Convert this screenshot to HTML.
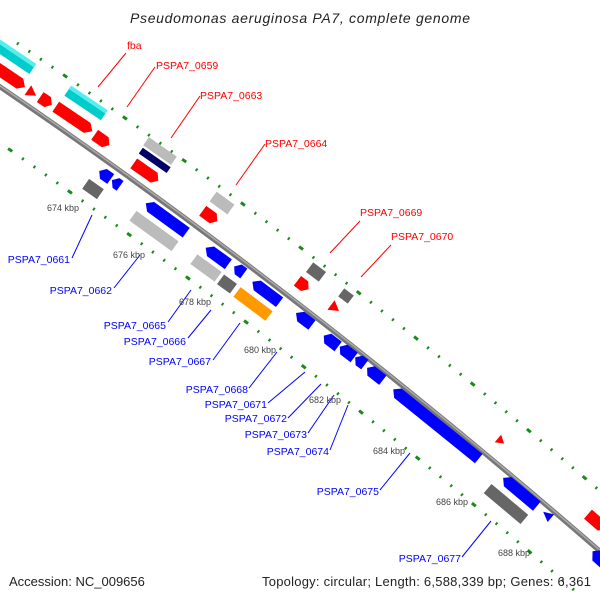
<!DOCTYPE html>
<html><head><meta charset="utf-8"><style>
body{margin:0;background:#fff}
svg{display:block}
text{font-family:"Liberation Sans","DejaVu Sans",sans-serif}
.r{fill:#f00;font-size:10.5px}
.b{fill:#00f;font-size:10.5px}
.k{fill:#444;font-size:9px}
</style></head><body>
<svg width="600" height="600" viewBox="0 0 600 600">
<text x="300" y="23" text-anchor="middle" font-size="14" font-style="italic" fill="#222" textLength="340">Pseudomonas aeruginosa PA7, complete genome</text>
<g fill="none" stroke="#1a8a1a" stroke-width="3" stroke-dasharray="2 12 2 12 2 12 2 12 5 12">
<path d="M -10,80 Q 300,290 610,560" transform="translate(27,-37)"/>
<path d="M -10,80 Q 300,290 610,560" transform="translate(-28,37)"/>
</g>
<path d="M -10,80 Q 300,290 610,560" fill="none" stroke="#777" stroke-width="5"/>
<path d="M -10,80 Q 300,290 610,560" fill="none" stroke="#aaa" stroke-width="1.5" transform="translate(0,-1)"/>

<g stroke="none">
<g transform="translate(12,55) rotate(34)"><rect x="-25" y="-6" width="50" height="12" fill="#0cc"/><rect x="-25" y="-6" width="50" height="4" fill="#5ee"/></g>
<g transform="translate(86,103) rotate(34)"><rect x="-22" y="-6" width="44" height="12" fill="#0cc"/><rect x="-22" y="-6" width="44" height="4" fill="#5ee"/></g>
<g transform="translate(10,77) rotate(34)"><polygon points="-18,-6 12,-6 18,0 12,6 -18,6" fill="#f00"/></g>
<g transform="translate(32,93) rotate(34)"><polygon points="-5,-6 5,0 -5,6" fill="#f00"/></g>
<g transform="translate(46,101) rotate(34)"><polygon points="-7,-6 2,-6 7,0 2,6 -7,6" fill="#f00"/></g>
<g transform="translate(74,119) rotate(34)"><polygon points="-22,-6 16,-6 22,0 16,6 -22,6" fill="#f00"/></g>
<g transform="translate(102,140) rotate(35)"><polygon points="-9,-6 4,-6 9,0 4,6 -9,6" fill="#f00"/></g>
<g transform="translate(160,151) rotate(35)"><rect x="-17" y="-5" width="34" height="10" fill="#bbb"/></g>
<g transform="translate(155,160) rotate(35)"><rect x="-17" y="-3" width="34" height="7" fill="#006"/></g>
<g transform="translate(146,172) rotate(35)"><polygon points="-15,-6 10,-6 15,0 10,6 -15,6" fill="#f00"/></g>
<g transform="translate(222,203) rotate(36)"><rect x="-11" y="-6" width="22" height="12" fill="#bbb"/></g>
<g transform="translate(210,216) rotate(36)"><polygon points="-9,-6 4,-6 9,0 4,6 -9,6" fill="#f00"/></g>
<g transform="translate(316,272) rotate(37)"><rect x="-8" y="-6" width="16" height="12" fill="#666"/></g>
<g transform="translate(303,285) rotate(37)"><polygon points="-7,-6 2,-6 7,0 2,6 -7,6" fill="#f00"/></g>
<g transform="translate(346,296) rotate(37)"><rect x="-6" y="-5" width="12" height="10" fill="#666"/></g>
<g transform="translate(335,308) rotate(37)"><polygon points="-5,-6 5,0 -5,6" fill="#f00"/></g>
<g transform="translate(501,441) rotate(40)"><polygon points="-4,-5 4,0 -4,5" fill="#f00"/></g>
<g transform="translate(597,522) rotate(41)"><polygon points="-12,-6 6,-6 12,0 6,6 -12,6" fill="#f00"/></g>

<g transform="translate(105,175) rotate(35)"><polygon points="-7,0 -2,-6 7,-6 7,6 -2,6" fill="#00f"/></g>
<g transform="translate(116,183) rotate(35)"><polygon points="-5,0 0,-6 5,-6 5,6 0,6" fill="#00f"/></g>
<g transform="translate(93,189) rotate(35)"><rect x="-9" y="-6" width="18" height="12" fill="#666"/></g>
<g transform="translate(166,218) rotate(36)"><polygon points="-25,0 -19,-6 25,-6 25,6 -19,6" fill="#00f"/></g>
<g transform="translate(154,231) rotate(36)"><rect x="-26" y="-6" width="52" height="12" fill="#bbb"/></g>
<g transform="translate(217,256) rotate(36)"><polygon points="-14,0 -8,-6 14,-6 14,6 -8,6" fill="#00f"/></g>
<g transform="translate(239,270) rotate(36)"><polygon points="-6,0 -1,-6 6,-6 6,6 -1,6" fill="#00f"/></g>
<g transform="translate(206,268) rotate(36)"><rect x="-15" y="-6" width="30" height="12" fill="#bbb"/></g>
<g transform="translate(227,284) rotate(36)"><rect x="-8" y="-6" width="16" height="12" fill="#666"/></g>
<g transform="translate(266,292) rotate(37)"><polygon points="-17,0 -11,-6 17,-6 17,6 -11,6" fill="#00f"/></g>
<g transform="translate(253,304) rotate(37)"><rect x="-20" y="-6" width="40" height="12" fill="#f90"/></g>
<g transform="translate(304,319) rotate(37)"><polygon points="-10,0 -4,-6 10,-6 10,6 -4,6" fill="#00f"/></g>
<g transform="translate(331,341) rotate(37)"><polygon points="-9,0 -4,-6 9,-6 9,6 -4,6" fill="#00f"/></g>
<g transform="translate(347,352) rotate(37)"><polygon points="-9,0 -4,-6 9,-6 9,6 -4,6" fill="#00f"/></g>
<g transform="translate(360,361) rotate(37)"><polygon points="-6,0 -1,-6 6,-6 6,6 -1,6" fill="#00f"/></g>
<g transform="translate(375,374) rotate(38)"><polygon points="-10,0 -5,-6 10,-6 10,6 -5,6" fill="#00f"/></g>
<g transform="translate(436,424) rotate(39)"><polygon points="-55,0 -49,-6 55,-6 55,6 -49,6" fill="#00f"/></g>
<g transform="translate(520,492) rotate(40)"><polygon points="-22,0 -16,-6 22,-6 22,6 -16,6" fill="#00f"/></g>
<g transform="translate(506,504) rotate(40)"><rect x="-24" y="-6" width="48" height="12" fill="#666"/></g>
<g transform="translate(547,515) rotate(40)"><polygon points="-5,0 5,-5 5,5" fill="#00f"/></g>
<g transform="translate(600,558) rotate(42)"><polygon points="-10,0 -4,-7 12,-7 12,7 -4,7" fill="#00f"/></g>
</g>

<g stroke="#f00" stroke-width="1">
<line x1="126" y1="53" x2="98" y2="87"/>
<line x1="155" y1="67" x2="127" y2="107"/>
<line x1="200" y1="96" x2="171" y2="138"/>
<line x1="265" y1="144" x2="236" y2="185"/>
<line x1="360" y1="221" x2="330" y2="253"/>
<line x1="391" y1="245" x2="361" y2="277"/>
</g>
<text class="r" x="127" y="49">fba</text>
<text class="r" x="156" y="69">PSPA7_0659</text>
<text class="r" x="200" y="99">PSPA7_0663</text>
<text class="r" x="265" y="147">PSPA7_0664</text>
<text class="r" x="360" y="216">PSPA7_0669</text>
<text class="r" x="391" y="240">PSPA7_0670</text>

<g stroke="#00f" stroke-width="1">
<line x1="72" y1="258" x2="92" y2="215"/>
<line x1="114" y1="288" x2="140" y2="255"/>
<line x1="168" y1="322" x2="191" y2="290"/>
<line x1="188" y1="338" x2="211" y2="310"/>
<line x1="213" y1="360" x2="240" y2="323"/>
<line x1="249" y1="388" x2="277" y2="352"/>
<line x1="268" y1="403" x2="305" y2="372"/>
<line x1="288" y1="418" x2="321" y2="384"/>
<line x1="308" y1="433" x2="334" y2="395"/>
<line x1="330" y1="450" x2="348" y2="405"/>
<line x1="380" y1="490" x2="410" y2="453"/>
<line x1="462" y1="557" x2="491" y2="521"/>
</g>
<g text-anchor="end">
<text class="b" x="70" y="263">PSPA7_0661</text>
<text class="b" x="112" y="294">PSPA7_0662</text>
<text class="b" x="166" y="329">PSPA7_0665</text>
<text class="b" x="186" y="345">PSPA7_0666</text>
<text class="b" x="211" y="365">PSPA7_0667</text>
<text class="b" x="248" y="393">PSPA7_0668</text>
<text class="b" x="267" y="408">PSPA7_0671</text>
<text class="b" x="287" y="422">PSPA7_0672</text>
<text class="b" x="307" y="438">PSPA7_0673</text>
<text class="b" x="329" y="455">PSPA7_0674</text>
<text class="b" x="379" y="495">PSPA7_0675</text>
<text class="b" x="461" y="562">PSPA7_0677</text>
</g>

<text class="k" x="47" y="211">674 kbp</text>
<text class="k" x="113" y="258">676 kbp</text>
<text class="k" x="179" y="305">678 kbp</text>
<text class="k" x="244" y="353">680 kbp</text>
<text class="k" x="309" y="403">682 kbp</text>
<text class="k" x="373" y="454">684 kbp</text>
<text class="k" x="436" y="505">686 kbp</text>
<text class="k" x="498" y="556">688 kbp</text>

<text x="9" y="586" font-size="13" fill="#222">Accession: NC_009656</text>
<text x="591" y="586" font-size="13" fill="#222" text-anchor="end" textLength="329">Topology: circular; Length: 6,588,339 bp; Genes: 6,361</text>
</svg>
</body></html>
